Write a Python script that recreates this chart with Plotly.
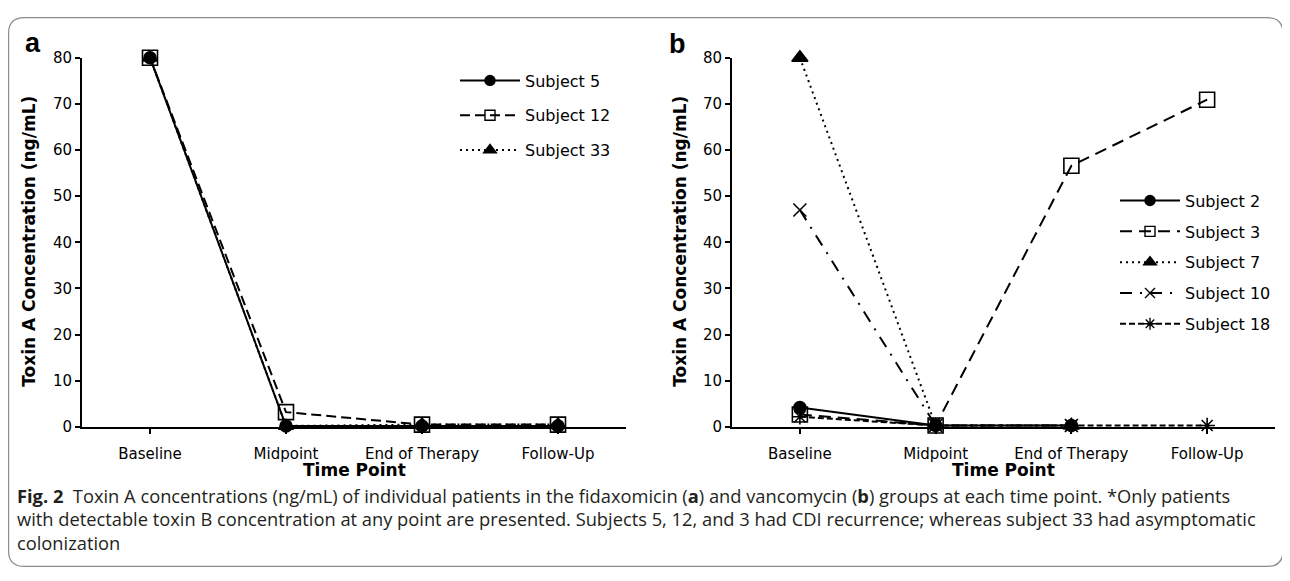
import plotly.graph_objects as go

W, H = 1290, 581
OFF = 8  # page body margin offset of the plot div

time_points = ["Baseline", "Midpoint", "End of Therapy", "Follow-Up"]

# Panel a: fidaxomicin
subj5 = [80, 0.2, 0.2, 0.2]
subj12 = [80, 3.2, 0.5, 0.5]
subj33 = [80, 0.2, 0.5, 0.5]

# Panel b: vancomycin
subj2 = [4.2, 0.3, 0.3, None]
subj3 = [2.7, 0.3, 56.6, 70.9]
subj7 = [80, 0.3, 0.3, None]
subj10 = [47, 0.3, 0.3, None]
subj18 = [2.2, 0.3, 0.3, 0.3]

y_ticks = [0, 10, 20, 30, 40, 50, 60, 70, 80]

caption_lines = [
    "<b>Fig. 2</b>  Toxin A concentrations (ng/mL) of individual patients in the fidaxomicin (<b>a</b>) and vancomycin (<b>b</b>) groups at each time point. *Only patients",
    "with detectable toxin B concentration at any point are presented. Subjects 5, 12, and 3 had CDI recurrence; whereas subject 33 had asymptomatic",
    "colonization",
]

FONT = "DejaVu Sans"
BLACK = "#000000"


def px(x):
    return (x - OFF) / W


def py(y):
    return 1 - (y - OFF) / H


fig = go.Figure()


def add(name, vals, xa, ya, legend, dash, symbol, size, lsize, group):
    # data trace
    fig.add_trace(go.Scatter(
        x=time_points, y=vals, name=name, mode="lines+markers",
        xaxis=xa, yaxis=ya, showlegend=False, legendgroup=group,
        connectgaps=False, cliponaxis=False,
        line=dict(color=BLACK, width=2, dash=dash),
        marker=dict(symbol=symbol, size=size, color=BLACK,
                    line=dict(color=BLACK, width=1.6)),
    ))
    # legend entry (no data, smaller key marker as in the original)
    fig.add_trace(go.Scatter(
        x=[None], y=[None], name=name, mode="lines+markers",
        xaxis=xa, yaxis=ya, legend=legend, legendgroup=group,
        line=dict(color=BLACK, width=2, dash=dash),
        marker=dict(symbol=symbol, size=lsize, color=BLACK,
                    line=dict(color=BLACK, width=1.4)),
    ))


add("Subject 5", subj5, "x", "y", "legend", "solid", "circle", 12, 10, "a1")
add("Subject 12", subj12, "x", "y", "legend", "10px,5px", "square-open", 15, 10, "a2")
add("Subject 33", subj33, "x", "y", "legend", "2px,4px", "triangle-up", 13, 11, "a3")

add("Subject 2", subj2, "x2", "y2", "legend2", "solid", "circle", 12, 10, "b1")
add("Subject 3", subj3, "x2", "y2", "legend2", "12px,7px", "square-open", 15, 10, "b2")
add("Subject 7", subj7, "x2", "y2", "legend2", "2px,4px", "triangle-up", 14, 11, "b3")
add("Subject 10", subj10, "x2", "y2", "legend2", "12px,8px,2px,8px", "x-thin-open", 13, 10, "b4")
add("Subject 18", subj18, "x2", "y2", "legend2", "6px,3px", "asterisk-open", 13, 10, "b5")

xdom_a = [px(82), px(626)]
xdom_b = [px(732), px(1275)]
ydom = [py(431), py(50)]

xcommon = dict(
    type="category", range=[-0.5, 3.5], showline=True, linecolor=BLACK, linewidth=2,
    ticks="outside", ticklen=5, tickwidth=1.5, tickcolor=BLACK, showgrid=False,
    zeroline=False, tickfont=dict(family=FONT, size=15, color=BLACK),
    ticklabelstandoff=7,
)
ycommon = dict(
    range=[0, 80], tickvals=y_ticks, showline=True, linecolor=BLACK, linewidth=2,
    ticks="outside", ticklen=5, tickwidth=1.5, tickcolor=BLACK, showgrid=False,
    zeroline=False, tickfont=dict(family=FONT, size=15, color=BLACK),
)

legcommon = dict(
    font=dict(family=FONT, size=16, color=BLACK), bgcolor="rgba(0,0,0,0)",
    itemwidth=60, traceorder="grouped", xanchor="left", yanchor="top",
    itemsizing="trace", itemclick=False, itemdoubleclick=False,
)


def ann(text, x, y, size, family=FONT, angle=0):
    return dict(text=text, x=px(x), y=py(y), xref="paper", yref="paper",
                xanchor="center", yanchor="middle", showarrow=False,
                textangle=angle, font=dict(family=family, size=size, color=BLACK))


annotations = [
    ann("<b>a</b>", 33, 35, 27, "Liberation Sans"),
    ann("<b>b</b>", 677, 36, 27, "Liberation Sans"),
    ann("<b>Toxin A Concentration (ng/mL)</b>", 29, 240, 17, angle=-90),
    ann("<b>Toxin A Concentration (ng/mL)</b>", 680, 240, 17, angle=-90),
    ann("<b>Time Point</b>", 354, 475, 17),
    ann("<b>Time Point</b>", 1003.5, 475, 17),
]
for i, line in enumerate(caption_lines):
    annotations.append(dict(
        text=line, x=px(15), y=py(502 + 24 * i), xref="paper", yref="paper",
        xanchor="left", yanchor="middle", showarrow=False,
        font=dict(family="Open Sans", size=18.3, color="#231f20"),
    ))

# rounded border frame
x0, x1, y0, y1 = px(8.6), px(1283), py(575), py(8.6)
rx, ry = 16 / W, 16 / H
border_path = (
    f"M{x0 + rx},{y1} L{x1 - rx},{y1} Q{x1},{y1} {x1},{y1 - ry} "
    f"L{x1},{y0 + ry} Q{x1},{y0} {x1 - rx},{y0} "
    f"L{x0 + rx},{y0} Q{x0},{y0} {x0},{y0 + ry} "
    f"L{x0},{y1 - ry} Q{x0},{y1} {x0 + rx},{y1} Z"
)

fig.update_layout(
    width=W, height=H, margin=dict(l=0, r=0, t=0, b=0),
    paper_bgcolor="white", plot_bgcolor="white",
    xaxis=dict(domain=xdom_a, anchor="y", **xcommon),
    yaxis=dict(domain=ydom, anchor="x", **ycommon),
    xaxis2=dict(domain=xdom_b, anchor="y2", **xcommon),
    yaxis2=dict(domain=ydom, anchor="x2", **ycommon),
    legend=dict(x=px(455), y=py(56), tracegroupgap=11, **legcommon),
    legend2=dict(x=px(1115), y=py(180), tracegroupgap=7, **legcommon),
    annotations=annotations,
    shapes=[dict(type="path", path=border_path, xref="paper", yref="paper",
                 line=dict(color="#8c8c8c", width=1.2), layer="below")],
    showlegend=True,
)

fig.write_html("out.html")
